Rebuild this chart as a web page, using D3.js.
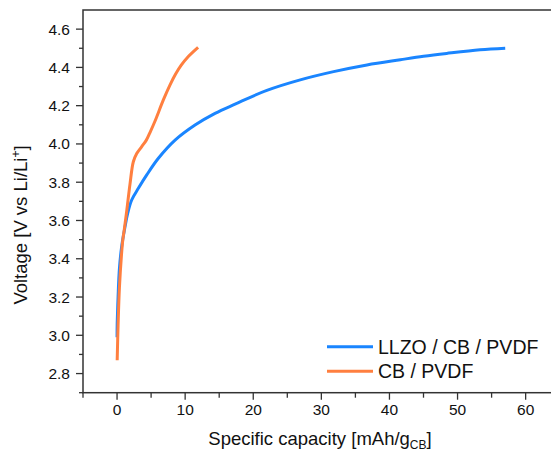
<!DOCTYPE html>
<html><head><meta charset="utf-8">
<script src="https://cdn.jsdelivr.net/npm/d3@7"></script>
<style>body{margin:0;background:#fff;} svg{display:block;font-family:"Liberation Sans",Arial,sans-serif;}</style>
</head><body>
<svg id="c" width="551" height="455"></svg>
<script>
const llzoCap = [0, 0.02, 0.15, 0.35, 0.7, 1.17, 1.56, 2.15, 3.13, 4.36, 6.07, 8.52, 11.45, 14.39, 17.33, 22.0, 26.9, 31.8, 36.7, 41.6, 45.0, 48.4, 53.3, 57.0];
const llzoV   = [2.99, 3.06, 3.2, 3.35, 3.47, 3.567, 3.637, 3.707, 3.768, 3.838, 3.925, 4.02, 4.099, 4.16, 4.208, 4.28, 4.335, 4.378, 4.413, 4.44, 4.458, 4.473, 4.492, 4.5];
const cbCap = [0.02, 0.15, 0.35, 0.65, 0.85, 1.07, 1.42, 1.9, 2.39, 2.89, 3.6, 4.3, 4.9, 5.58, 6.8, 7.8, 8.6, 9.4, 10.5, 11.9];
const cbV   = [2.87, 3.05, 3.25, 3.42, 3.5, 3.555, 3.65, 3.79, 3.907, 3.95, 3.985, 4.02, 4.065, 4.12, 4.23, 4.31, 4.365, 4.41, 4.458, 4.505];
const xTicks = [0, 10, 20, 30, 40, 50, 60];
const yTicks = [2.8, 3.0, 3.2, 3.4, 3.6, 3.8, 4.0, 4.2, 4.4, 4.6];
const seriesNames = ["LLZO / CB / PVDF", "CB / PVDF"];
const colors = ["#1a85ff", "#ff7f3f"];

const svg = d3.select("#c");
const L = 83, T = 10, B = 392.7;
const x = d3.scaleLinear().domain([-5, 66]).range([L, L + 71 * 6.81]);
const y = d3.scaleLinear().domain([2.7, 4.7]).range([B, T]);
const axisCol = "#333";

// frame
svg.append("rect").attr("x", L).attr("y", T).attr("width", x(66) - L).attr("height", B - T)
  .attr("fill", "none").attr("stroke", axisCol).attr("stroke-width", 1.5);

// x axis
const xMinor = d3.range(-5, 66, 5);
const gx = svg.append("g").attr("transform", `translate(0,${B})`);
gx.selectAll("line.t").data(xMinor).join("line")
  .attr("x1", d => x(d)).attr("x2", d => x(d)).attr("y1", 0).attr("y2", d => xTicks.includes(d) ? 7 : 5)
  .attr("stroke", axisCol).attr("stroke-width", 1.3);
gx.selectAll("text").data(xTicks).join("text")
  .attr("x", d => x(d)).attr("y", 22).attr("text-anchor", "middle")
  .attr("font-size", 15.5).attr("fill", "#111").text(d => d);

// y axis
const yMinor = d3.range(27, 47).map(d => d / 10);
const gy = svg.append("g");
gy.selectAll("line").data(yMinor).join("line")
  .attr("x1", L).attr("x2", d => yTicks.some(t => Math.abs(t - d) < 1e-6) ? L - 7 : L - 4)
  .attr("y1", d => y(d)).attr("y2", d => y(d))
  .attr("stroke", axisCol).attr("stroke-width", 1.3);
gy.selectAll("text").data(yTicks).join("text")
  .attr("x", L - 13).attr("y", d => y(d) + 5.5).attr("text-anchor", "end")
  .attr("font-size", 15.5).attr("fill", "#111").text(d => d.toFixed(1));

// axis titles
const xt = svg.append("text").attr("x", 320).attr("y", 445).attr("text-anchor", "middle")
  .attr("font-size", 18.5).attr("fill", "#111");
xt.append("tspan").text("Specific capacity [mAh/g");
xt.append("tspan").attr("font-size", 12).attr("dy", 4).text("CB");
xt.append("tspan").attr("dy", -4).text("]");

const yt = svg.append("text").attr("transform", "translate(27,225) rotate(-90)")
  .attr("text-anchor", "middle").attr("font-size", 18.5).attr("fill", "#111");
yt.append("tspan").text("Voltage [V vs Li/Li");
yt.append("tspan").attr("font-size", 12).attr("dy", -7).text("+");
yt.append("tspan").attr("dy", 7).text("]");

// curves
const line = d3.line().x(d => x(d[0])).y(d => y(d[1])).curve(d3.curveCatmullRom.alpha(0.5));
const series = [d3.zip(llzoCap, llzoV), d3.zip(cbCap, cbV)];
svg.append("g").selectAll("path").data(series).join("path")
  .attr("d", line).attr("fill", "none").attr("stroke", (d, i) => colors[i])
  .attr("stroke-width", 3).attr("stroke-linejoin", "round");

// legend
const lg = svg.append("g");
seriesNames.forEach((n, i) => {
  const yy = 346.7 + i * 24.5;
  lg.append("line").attr("x1", 327).attr("x2", 373).attr("y1", yy).attr("y2", yy)
    .attr("stroke", colors[i]).attr("stroke-width", 3);
  lg.append("text").attr("x", 378).attr("y", yy + 7).attr("font-size", 19.5).attr("fill", "#111").text(n);
});
</script>
</body></html>
